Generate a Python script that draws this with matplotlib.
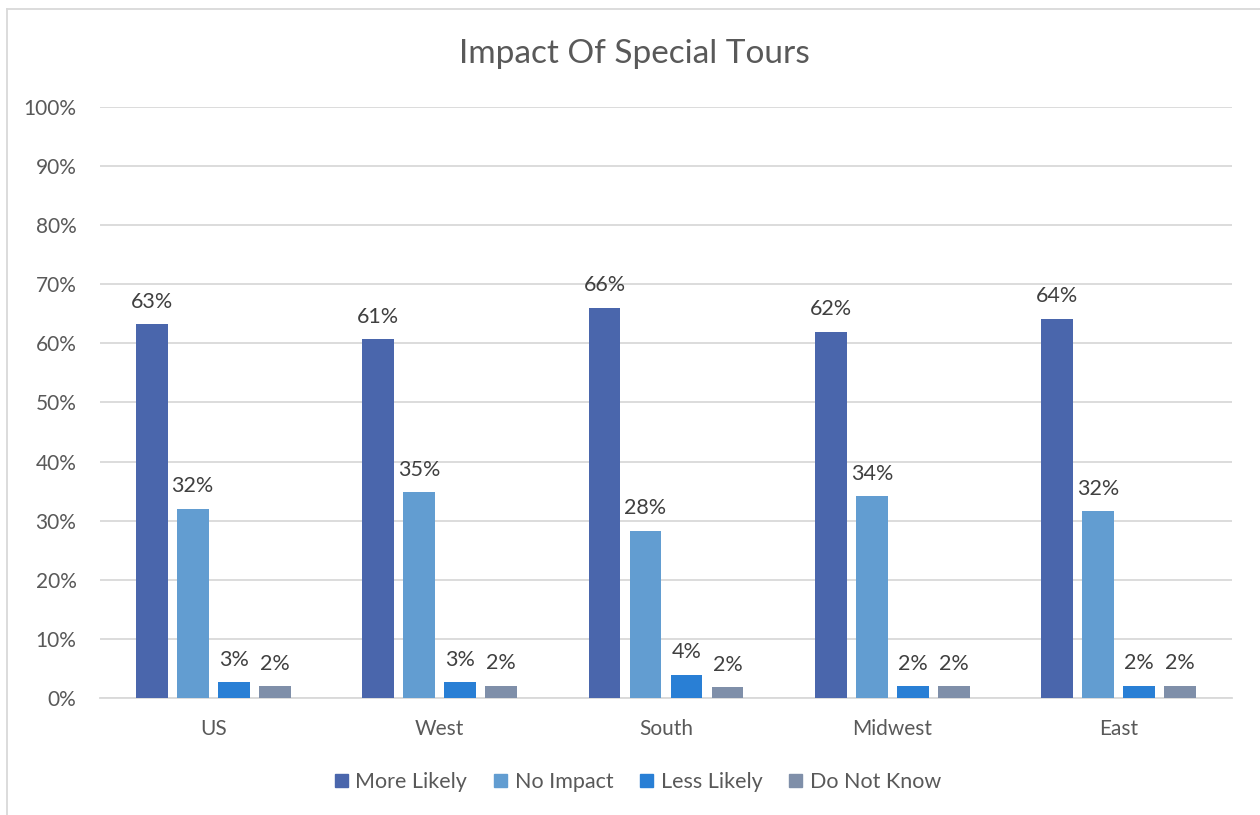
import matplotlib
matplotlib.use("Agg")
import matplotlib.pyplot as plt
import numpy as np
from matplotlib.lines import Line2D

regions = ["US", "West", "South", "Midwest", "East"]
series_names = ["More Likely", "No Impact", "Less Likely", "Do Not Know"]
more_likely = [0.632, 0.607, 0.660, 0.620, 0.642]
no_impact = [0.320, 0.348, 0.283, 0.341, 0.316]
less_likely = [0.027, 0.027, 0.039, 0.020, 0.021]
do_not_know = [0.020, 0.021, 0.018, 0.020, 0.021]
colors = ["#4A66AC", "#629DD1", "#297FD5", "#7F8FA9"]
y_ticks = [0.0, 0.1, 0.2, 0.3, 0.4, 0.5, 0.6, 0.7, 0.8, 0.9, 1.0]

plt.rcParams["font.family"] = ["Lato", "DejaVu Sans"]

fig = plt.figure(figsize=(12.6, 8.15), dpi=100)
ax = fig.add_axes([100 / 1260, 117 / 815, 1132 / 1260, 591 / 815])

x = np.arange(len(regions))
step = 0.181
width = 0.141
all_series = [more_likely, no_impact, less_likely, do_not_know]
for i, (name, vals, c) in enumerate(zip(series_names, all_series, colors)):
    pos = x + (i - 1.5) * step
    bars = ax.bar(pos, vals, width=width, color=c, label=name, zorder=3)
    for b, v in zip(bars, vals):
        ax.annotate(f"{v:.0%}", (b.get_x() + b.get_width() / 2, v),
                    xytext=(0, 9), textcoords="offset points",
                    ha="center", va="bottom", fontsize=15.5, color="#404040")

ax.set_ylim(0, 1.0)
ax.set_xlim(-0.5, len(regions) - 0.5)
ax.set_yticks(y_ticks)
ax.set_yticklabels([f"{t:.0%}" for t in y_ticks])
ax.set_xticks(x)
ax.set_xticklabels(regions)
ax.tick_params(axis="both", length=0, labelsize=15, labelcolor="#595959")
ax.tick_params(axis="y", pad=17)
ax.tick_params(axis="x", pad=15)
ax.grid(axis="y", color="#D9D9D9", linewidth=1.3, zorder=0)
for s in ["left", "right", "top"]:
    ax.spines[s].set_visible(False)
ax.spines["bottom"].set_color("#D9D9D9")
ax.spines["bottom"].set_linewidth(1.3)

fig.text(634 / 1260, 1 - 54 / 815, "Impact Of Special Tours", ha="center",
         va="center", fontsize=24, color="#595959")

handles = [plt.Rectangle((0, 0), 1, 1, color=c) for c in colors]
fig.legend(handles, series_names, loc="center", bbox_to_anchor=(638 / 1260, 1 - 782 / 815),
           ncol=4, frameon=False, fontsize=15.5, labelcolor="#595959",
           handlelength=0.6, handleheight=0.6, handletextpad=0.35, columnspacing=1.25)

# chart area border (left and top edges)
fig.add_artist(Line2D([6.5 / 1260, 6.5 / 1260], [0, 1 - 9 / 815], transform=fig.transFigure,
                      color="#D9D9D9", linewidth=1.3))
fig.add_artist(Line2D([6.5 / 1260, 1], [1 - 9 / 815, 1 - 9 / 815], transform=fig.transFigure,
                      color="#D9D9D9", linewidth=1.3))

fig.savefig("out.png", dpi=100)
